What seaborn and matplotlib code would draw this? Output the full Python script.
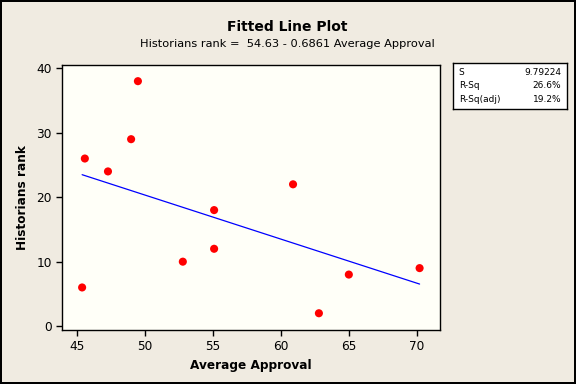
import pandas as pd
import numpy as np
import matplotlib
matplotlib.use("Agg")
import matplotlib.pyplot as plt
import seaborn as sns

# =====================================================
# DATA
# =====================================================

average_approval = [45.4, 45.6, 47.3, 49.0, 49.5, 52.8, 55.1, 55.1, 60.9, 62.8, 65.0, 70.2]
historians_rank = [6, 26, 24, 29, 38, 10, 12, 18, 22, 2, 8, 9]

x_ticks = [45, 50, 55, 60, 65, 70]
y_ticks = [0, 10, 20, 30, 40]

stat_names = ["S", "R-Sq", "R-Sq(adj)"]
stat_values = ["9.79224", "26.6%", "19.2%"]

df = pd.DataFrame({
    "Average Approval": average_approval,
    "Historians rank": historians_rank,
})

# =====================================================
# PLOT
# =====================================================

sns.set_style("ticks")
plt.rcParams["font.family"] = ["DejaVu Sans"]
plt.rcParams["text.color"] = "black"
plt.rcParams["axes.labelcolor"] = "black"

bg = "#F0EBE1"

fig = plt.figure(figsize=(5.76, 3.84), dpi=100, facecolor=bg)
fig.patch.set_edgecolor("black")
fig.patch.set_linewidth(1.5)

ax = fig.add_axes([0.1076, 0.1406, 0.6563, 0.690])
ax.set_facecolor("#FFFFF8")

sns.regplot(
    data=df,
    x="Average Approval",
    y="Historians rank",
    ci=None,
    ax=ax,
    scatter_kws={"color": "#FF0000", "s": 34, "edgecolor": "none", "alpha": 1},
    line_kws={"color": "#0000FF", "linewidth": 0.9},
)

ax.set_xlim(43.92, 71.7)
ax.set_ylim(-0.6, 40.5)
ax.set_xticks(x_ticks)
ax.set_yticks(y_ticks)
ax.tick_params(direction="out", length=4, width=1, labelsize=8.7, colors="black")

for sp in ax.spines.values():
    sp.set_visible(True)
    sp.set_color("black")
    sp.set_linewidth(1)

ax.set_xlabel("Average Approval", fontsize=8.7, fontweight="bold", labelpad=4,
              color="black")
ax.set_ylabel("Historians rank", fontsize=8.7, fontweight="bold", labelpad=5,
              color="black")

fig.text(0.499, 0.93, "Fitted Line Plot", ha="center", va="center",
         fontsize=10, fontweight="bold", color="black")
fig.text(0.499, 0.885, "Historians rank =  54.63 - 0.6861 Average Approval",
         ha="center", va="center", fontsize=8.2, color="black")

# stats box
box = fig.add_axes([453 / 576, 1 - 109 / 384, 114 / 576, 46 / 384])
box.set_facecolor("white")
box.set_xticks([])
box.set_yticks([])
for sp in box.spines.values():
    sp.set_color("black")
    sp.set_linewidth(1)
box.set_xlim(0, 1)
box.set_ylim(0, 1)
for i, (n, v) in enumerate(zip(stat_names, stat_values)):
    yy = 0.8 - i * 0.3
    box.text(0.05, yy, n, ha="left", va="center", fontsize=6.5, color="black")
    box.text(0.95, yy, v, ha="right", va="center", fontsize=6.5, color="black")

plt.savefig("out.png", dpi=100, facecolor=bg, edgecolor="black")
